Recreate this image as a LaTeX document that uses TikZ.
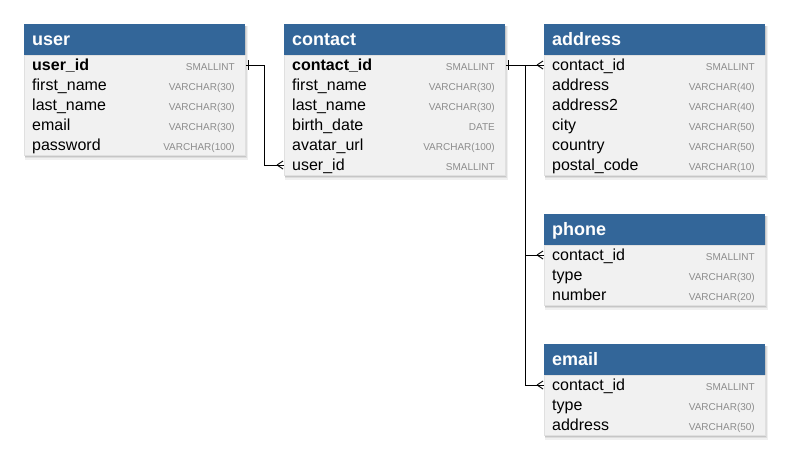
\documentclass[tikz,border=0pt]{standalone}
\usepackage{fontspec}
\setmainfont{Liberation Sans}
\definecolor{hdrblue}{HTML}{336699}
\definecolor{bodygray}{HTML}{F1F1F1}
\definecolor{typegray}{HTML}{8C8C8C}
\tikzset{
  hdrbox/.style={rectangle, fill=hdrblue, inner sep=0pt, minimum width=221pt, minimum height=31pt, anchor=north west},
  bodybox/.style={rectangle, fill=bodygray, draw=black!12, line width=0.5pt, inner sep=0pt, minimum width=221pt, anchor=north west},
  htext/.style={anchor=base west, text=white, inner sep=0pt, font=\fontsize{18}{20}\selectfont\bfseries},
  fld/.style={anchor=base west, inner sep=0pt, text=black, font=\fontsize{16}{18}\selectfont},
  typ/.style={anchor=base east, inner sep=0pt, text=typegray, font=\fontsize{10}{12}\selectfont},
  conn/.style={draw=black, line width=1pt},
  crow/.pic={\draw[line width=0.9pt] (-7,0) -- (-1,-4) (-7,0) -- (-1,4);},
  onebar/.pic={\draw[line width=0.9pt] (0,-5) -- (0,5);}
}
\newcommand\ertable[5]{%
  % #1 name, #2 x, #3 y, #4 title, #5 number of rows
  \fill[black, opacity=0.06] (#2+1,#3+2) rectangle (#2+224,#3+31+20*#5+5);
  \fill[black, opacity=0.08] (#2+1,#3+2) rectangle (#2+223,#3+31+20*#5+3);
  \fill[black, opacity=0.10] (#2+1,#3+2) rectangle (#2+222,#3+31+20*#5+1.5);
  \node[bodybox, minimum height=20*#5 pt] (#1b) at (#2,#3+31) {};
  \node[hdrbox] (#1) at (#2,#3) {};
  \node[htext] (#1t) at (#2+8,#3+21) {#4};
}
\newcommand\errow[6]{%
  % #1 name, #2 x, #3 y, #4 index, #5 field, #6 type
  \node[fld] (#1-#4) at (#2+8,#3+26+20*#4) {#5};
  \node[typ] (#1-#4t) at (#2+211,#3+26+20*#4) {#6};
  \coordinate (#1-#4c) at (#2,#3+21+20*#4);
}
\begin{document}
\begin{tikzpicture}[x=1pt,y=-1pt]
\useasboundingbox[fill=white] (0,0) rectangle (790,461);

% user
\ertable{user}{24}{24}{user}{5}
\errow{user}{24}{24}{1}{\bfseries user\_id}{SMALLINT}
\errow{user}{24}{24}{2}{first\_name}{VARCHAR(30)}
\errow{user}{24}{24}{3}{last\_name}{VARCHAR(30)}
\errow{user}{24}{24}{4}{email}{VARCHAR(30)}
\errow{user}{24}{24}{5}{password}{VARCHAR(100)}

% contact
\ertable{contact}{284}{24}{contact}{6}
\errow{contact}{284}{24}{1}{\bfseries contact\_id}{SMALLINT}
\errow{contact}{284}{24}{2}{first\_name}{VARCHAR(30)}
\errow{contact}{284}{24}{3}{last\_name}{VARCHAR(30)}
\errow{contact}{284}{24}{4}{birth\_date}{DATE}
\errow{contact}{284}{24}{5}{avatar\_url}{VARCHAR(100)}
\errow{contact}{284}{24}{6}{user\_id}{SMALLINT}

% address
\ertable{address}{544}{24}{address}{6}
\errow{address}{544}{24}{1}{contact\_id}{SMALLINT}
\errow{address}{544}{24}{2}{address}{VARCHAR(40)}
\errow{address}{544}{24}{3}{address2}{VARCHAR(40)}
\errow{address}{544}{24}{4}{city}{VARCHAR(50)}
\errow{address}{544}{24}{5}{country}{VARCHAR(50)}
\errow{address}{544}{24}{6}{postal\_code}{VARCHAR(10)}

% phone
\ertable{phone}{544}{214}{phone}{3}
\errow{phone}{544}{214}{1}{contact\_id}{SMALLINT}
\errow{phone}{544}{214}{2}{type}{VARCHAR(30)}
\errow{phone}{544}{214}{3}{number}{VARCHAR(20)}

% email
\ertable{email}{544}{344}{email}{3}
\errow{email}{544}{344}{1}{contact\_id}{SMALLINT}
\errow{email}{544}{344}{2}{type}{VARCHAR(30)}
\errow{email}{544}{344}{3}{address}{VARCHAR(50)}

% connectors
\coordinate (ju) at ([xshift=19pt] userb.east |- user-1c);
\draw[conn] (userb.east |- user-1c) -- (ju) |- (contactb.west |- contact-6c);
\path ([xshift=3pt] userb.east |- user-1c) pic {onebar};
\path (contactb.west |- contact-6c) pic {crow};

\coordinate (jc) at ([xshift=20pt] contactb.east |- contact-1c);
\draw[conn] (contactb.east |- contact-1c) -- (addressb.west |- address-1c);
\draw[conn] (jc) |- (phoneb.west |- phone-1c);
\draw[conn] (jc) |- (emailb.west |- email-1c);
\path ([xshift=3pt] contactb.east |- contact-1c) pic {onebar};
\path (addressb.west |- address-1c) pic {crow};
\path (phoneb.west |- phone-1c) pic {crow};
\path (emailb.west |- email-1c) pic {crow};
\end{tikzpicture}
\end{document}
